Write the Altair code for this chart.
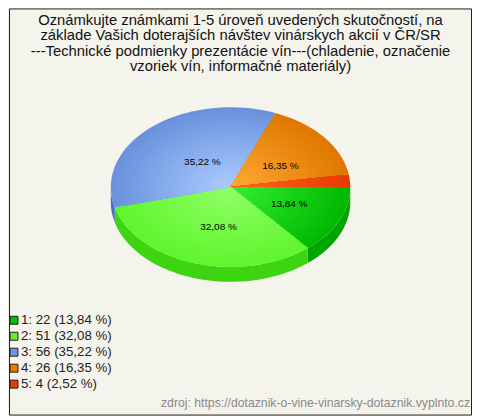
import numpy as np
import pandas as pd
import altair as alt

# --- data
categories = ["1", "2", "3", "4", "5"]
counts = [22, 51, 56, 26, 4]
percents = ["13,84 %", "32,08 %", "35,22 %", "16,35 %", "2,52 %"]
title_lines = [
    "Oznámkujte známkami 1-5 úroveň uvedených skutočností, na",
    "základe Vašich doterajších návštev vinárskych akcií v ČR/SR",
    "---Technické podmienky prezentácie vín---(chladenie, označenie",
    "vzoriek vín, informačné materiály)",
]
source = "zdroj: https://dotaznik-o-vine-vinarsky-dotaznik.vyplnto.cz"

# --- style
center_cols = ["#33f033", "#90ff66", "#aacbff", "#ffa933", "#ff6522"]
rim_cols = ["#00b800", "#60f52e", "#6a92dc", "#e07800", "#e83a00"]
wall_cols = ["#00a600", "#3dd412", "#4a72c4", "#c86a00", "#c83000"]
key_cols = ["#00c000", "#66ee33", "#6f97e0", "#e87b00", "#e83d00"]
BG = "#f5f4ec"
W, H = 464, 408
CX, CY, RX, RY, DEPTH = 222, 179, 120, 80, 15
RINGS = 32


def hex2rgb(h):
    return np.array([int(h[i:i + 2], 16) for i in (1, 3, 5)], float)


def mix(a, b, t):
    c = hex2rgb(a) * (1 - t) + hex2rgb(b) * t
    return "#%02x%02x%02x" % tuple(int(round(v)) for v in c)


fracs = np.array(counts, float) / sum(counts)
edges = np.concatenate([[0], np.cumsum(fracs)]) * 2 * np.pi

rows = []
gid = 0


def add_poly(us, vs, color):
    global gid
    for k, (u, v) in enumerate(zip(us, vs)):
        rows.append({"u": float(u), "v": float(v), "g": gid, "o": k, "c": color})
    gid += 1


# side walls: only the front half of the ellipse is visible
for i in range(len(counts)):
    a0, a1 = edges[i], min(edges[i + 1], np.pi)
    if a0 >= np.pi:
        continue
    t = np.linspace(a0, a1, 40)
    us = np.concatenate([np.cos(t), np.cos(t[::-1])])
    vs = np.concatenate([-np.sin(t), -np.sin(t[::-1]) - DEPTH / RY])
    add_poly(us, vs, wall_cols[i])

# top face: nested sectors give an elliptical gradient
for i in range(len(counts)):
    t = np.linspace(edges[i], edges[i + 1], max(6, int(fracs[i] * 120)))
    for ring in range(RINGS):
        r = 1 - ring / RINGS
        us = np.concatenate([[0], r * np.cos(t)])
        vs = np.concatenate([[0], -r * np.sin(t)])
        add_poly(us, vs, mix(rim_cols[i], center_cols[i], ring / (RINGS - 1)))

poly = pd.DataFrame(rows)

x_scale = alt.Scale(domain=[-CX / RX, (W - CX) / RX], range=[0, W], nice=False, zero=False)
y_scale = alt.Scale(domain=[CY / RY, (CY - H) / RY], range=[0, H], nice=False, zero=False)

pie = alt.Chart(poly).mark_line(filled=True, strokeWidth=0, interpolate="linear").encode(
    x=alt.X("u:Q", scale=x_scale, axis=None),
    y=alt.Y("v:Q", scale=y_scale, axis=None),
    detail="g:N",
    order="o:Q",
    fill=alt.Fill("c:N", scale=None),
)

labels = pd.DataFrame({
    "t": percents[:4],
    "u": [0.49, -0.10, -0.235, 0.417],
    "v": [-0.21, -0.50, 0.31, 0.26],
})
label_marks = alt.Chart(labels).mark_text(font="Liberation Sans", fontSize=10, color="#000000").encode(
    x=alt.X("u:Q", scale=x_scale, axis=None),
    y=alt.Y("v:Q", scale=y_scale, axis=None),
    text="t:N",
)

title_df = pd.DataFrame({"t": title_lines, "row": range(len(title_lines))})
title_marks = alt.Chart(title_df).mark_text(font="Liberation Sans", fontSize=14.85, color="#111111").encode(
    x=alt.value(232),
    y=alt.Y("row:Q", scale=alt.Scale(domain=[0, 3], range=[12.5, 59]), axis=None),
    text="t:N",
)

legend_df = pd.DataFrame({
    "row": range(5),
    "t": [f"{c}: {n} ({p})" for c, n, p in zip(categories, counts, percents)],
    "c": key_cols,
})
legend_y = alt.Y("row:Q", scale=alt.Scale(domain=[0, 4], range=[312.5, 376.5]), axis=None)
legend_keys = alt.Chart(legend_df).mark_point(shape="square", filled=True, size=64, stroke="#222222", strokeWidth=1, opacity=1).encode(
    x=alt.value(5),
    y=legend_y,
    fill=alt.Fill("c:N", scale=None),
)
legend_text = alt.Chart(legend_df).mark_text(font="Liberation Sans", fontSize=13.3, align="left", color="#222222").encode(
    x=alt.value(12),
    y=legend_y,
    text="t:N",
)

source_mark = alt.Chart(pd.DataFrame({"t": [source]})).mark_text(
    font="Liberation Sans", fontSize=12.25, align="right", color="#888888"
).encode(x=alt.value(462), y=alt.value(395), text="t:N")

frame = alt.Chart(pd.DataFrame({"a": [0]})).mark_rect(fill=None, stroke="#222222", strokeWidth=1).encode(
    x=alt.value(0.5), x2=alt.value(W - 0.5), y=alt.value(0.5), y2=alt.value(H - 0.5)
)

chart = alt.layer(
    pie, label_marks, title_marks, legend_keys, legend_text, source_mark, frame
).resolve_scale(x="shared", y="independent").properties(
    width=W, height=H, padding=0, background=BG
).configure_view(stroke=None)

chart.save("out.html", embed_options={"renderer": "svg", "actions": False})
